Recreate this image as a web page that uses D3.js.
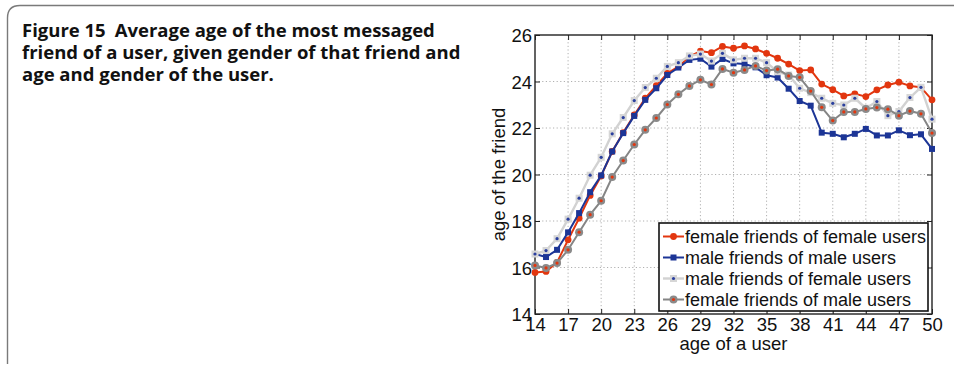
<!DOCTYPE html>
<html>
<head>
<meta charset="utf-8">
<script src="https://cdn.jsdelivr.net/npm/d3@7/dist/d3.min.js"></script>
<style>
  html, body { margin: 0; padding: 0; background: #fff; }
  svg { display: block; }
</style>
</head>
<body>
<svg id="fig" width="954" height="365"></svg>
<script>
// Age of the user (x) and mean age of the most messaged friend (y), per group
const ages = d3.range(14, 51);

const femaleOfFemale = [15.79, 15.83, 16.22, 17.19, 18.12, 19.10, 19.94, 20.99, 21.80, 22.56,
  23.28, 23.82, 24.35, 24.64, 25.07, 25.31, 25.24, 25.51, 25.43, 25.53,
  25.40, 25.21, 25.00, 24.75, 24.47, 24.50, 23.89, 23.65, 23.38, 23.47,
  23.35, 23.64, 23.85, 23.97, 23.81, 23.75, 23.21];

const maleOfMale = [16.58, 16.45, 16.76, 17.51, 18.34, 19.24, 19.96, 20.99, 21.78, 22.52,
  23.21, 23.71, 24.28, 24.60, 24.93, 24.98, 24.64, 24.97, 24.78, 24.75,
  24.61, 24.27, 24.17, 23.69, 23.16, 22.96, 21.80, 21.75, 21.60, 21.75,
  21.96, 21.68, 21.68, 21.90, 21.69, 21.73, 21.10];

const maleOfFemale = [16.58, 16.73, 17.24, 18.08, 18.98, 19.97, 20.74, 21.75, 22.45, 23.18,
  23.74, 24.14, 24.65, 24.81, 25.10, 25.18, 24.88, 25.21, 24.93, 25.00,
  25.00, 24.81, 24.42, 24.28, 23.71, 23.52, 23.28, 23.06, 22.99, 23.28,
  22.85, 23.14, 22.53, 22.71, 23.31, 23.75, 22.38];

const femaleOfMale = [16.09, 15.98, 16.19, 16.76, 17.52, 18.27, 18.87, 19.89, 20.60, 21.29,
  21.92, 22.43, 23.01, 23.45, 23.81, 24.07, 23.87, 24.54, 24.38, 24.50,
  24.67, 24.47, 24.53, 24.24, 24.18, 23.59, 22.89, 22.32, 22.69, 22.69,
  22.82, 22.88, 22.81, 22.53, 22.73, 22.61, 21.78];

const seriesNames = [
  "female friends of female users",
  "male friends of male users",
  "male friends of female users",
  "female friends of male users"
];

const xTicks = [14, 17, 20, 23, 26, 29, 32, 35, 38, 41, 44, 47, 50];
const yTicks = [14, 16, 18, 20, 22, 24, 26];

const captionLines = [
  "friend of a user, given gender of that friend and",
  "age and gender of the user."
];

// Visual style per series: line colour, marker shape, marker fill, centre dot
const styles = [
  { line: "#e2360f", width: 2, shape: "circle", size: 3.4, fill: "#e2360f", dot: null },
  { line: "#1c3596", width: 2, shape: "square", size: 6, fill: "#1c3596", dot: null },
  { line: "#d2d2d2", width: 2.4, shape: "square", size: 7, fill: "#d6d6d6", dot: "#2a3f9e" },
  { line: "#858585", width: 2, shape: "circle", size: 4, fill: "#8a8a8a", dot: "#e2360f" }
];
const values = [femaleOfFemale, maleOfMale, maleOfFemale, femaleOfMale];

const svg = d3.select("#fig");

// Rounded frame around the figure
svg.append("path")
  .attr("d", "M7.5,364 L7.5,18 Q7.5,5.5 20,5.5 L960,5.5")
  .attr("fill", "none")
  .attr("stroke", "#7a7a7a")
  .attr("stroke-width", 1.4);

// Caption
const cap = svg.append("text")
  .attr("font-family", "'Open Sans', Lato, sans-serif")
  .attr("font-weight", "bold")
  .attr("font-size", 18.5)
  .attr("fill", "#111");
const l1 = cap.append("tspan").attr("x", 22).attr("y", 37);
l1.append("tspan").text("Figure 15");
l1.append("tspan").attr("dx", 9).text("Average age of the most messaged");
captionLines.forEach((t, i) => {
  cap.append("tspan").attr("x", 22).attr("y", 59 + i * 22).text(t);
});

// Plot area
const L = 535, R = 932, T = 35, B = 314;
const x = d3.scaleLinear().domain([14, 50]).range([L, R]);
const y = d3.scaleLinear().domain([14, 26]).range([B, T]);
const chartFont = "'Liberation Sans', Arial, sans-serif";
const chartSize = 18.5;

const plot = svg.append("g");

// Dotted grid
plot.append("g").selectAll("line").data(xTicks.slice(1, -1)).join("line")
  .attr("x1", d => x(d)).attr("x2", d => x(d))
  .attr("y1", T).attr("y2", B)
  .attr("stroke", "#b0b0b0").attr("stroke-width", 1).attr("stroke-dasharray", "1.2,2.4");
plot.append("g").selectAll("line").data(yTicks.slice(1, -1)).join("line")
  .attr("x1", L).attr("x2", R)
  .attr("y1", d => y(d)).attr("y2", d => y(d))
  .attr("stroke", "#b0b0b0").attr("stroke-width", 1).attr("stroke-dasharray", "1.2,2.4");

// Axes with inward ticks
const xAxis = plot.append("g").attr("transform", `translate(0,${B})`)
  .call(d3.axisBottom(x).tickValues(xTicks).tickSize(-5).tickPadding(4).tickFormat(d3.format("d")));
const xAxisTop = plot.append("g").attr("transform", `translate(0,${T})`)
  .call(d3.axisTop(x).tickValues(xTicks).tickSize(-5).tickFormat(""));
const yAxis = plot.append("g").attr("transform", `translate(${L},0)`)
  .call(d3.axisLeft(y).tickValues(yTicks).tickSize(-5).tickPadding(3).tickFormat(d3.format("d")));
const yAxisRight = plot.append("g").attr("transform", `translate(${R},0)`)
  .call(d3.axisRight(y).tickValues(yTicks).tickSize(-5).tickFormat(""));

[xAxis, xAxisTop, yAxis, yAxisRight].forEach(g => {
  g.select(".domain").remove();
  g.selectAll(".tick line").attr("stroke", "#222").attr("stroke-width", 1);
  g.selectAll("text").attr("font-family", chartFont).attr("font-size", chartSize).attr("fill", "#111");
});
yAxis.selectAll("text").attr("dy", "0.36em");

plot.append("rect")
  .attr("x", L).attr("y", T).attr("width", R - L).attr("height", B - T)
  .attr("fill", "none").attr("stroke", "#222").attr("stroke-width", 1.4);

// Axis titles
svg.append("text")
  .attr("x", (L + R) / 2).attr("y", 350)
  .attr("text-anchor", "middle")
  .attr("font-family", chartFont).attr("font-size", chartSize).attr("fill", "#111")
  .text("age of a user");
svg.append("text")
  .attr("transform", `translate(505,${(T + B) / 2}) rotate(-90)`)
  .attr("text-anchor", "middle")
  .attr("font-family", chartFont).attr("font-size", chartSize).attr("fill", "#111")
  .text("age of the friend");

// Marker helper
function drawMarker(g, s, cx, cy) {
  if (s.shape === "circle") {
    g.append("circle").attr("cx", cx).attr("cy", cy).attr("r", s.size)
      .attr("fill", s.fill).attr("stroke", "none");
  } else {
    g.append("rect").attr("x", cx - s.size / 2).attr("y", cy - s.size / 2)
      .attr("width", s.size).attr("height", s.size)
      .attr("fill", s.fill).attr("stroke", "none");
  }
  if (s.dot) {
    g.append("circle").attr("cx", cx).attr("cy", cy).attr("r", 1.6).attr("fill", s.dot);
  }
}

// Series lines and markers
const line = d3.line().x(d => x(d[0])).y(d => y(d[1]));
values.forEach((vals, i) => {
  const s = styles[i];
  const pts = ages.map((a, j) => [a, vals[j]]);
  const g = plot.append("g");
  g.append("path").attr("d", line(pts))
    .attr("fill", "none").attr("stroke", s.line).attr("stroke-width", s.width)
    .attr("stroke-linejoin", "round");
  pts.forEach(p => drawMarker(g, s, x(p[0]), y(p[1])));
});

// Legend
const lg = svg.append("g");
const LX = 659, LY = 223, LW = 269, LH = 88;
lg.append("rect").attr("x", LX).attr("y", LY).attr("width", LW).attr("height", LH)
  .attr("fill", "#fff").attr("stroke", "#111").attr("stroke-width", 1.6);
seriesNames.forEach((name, i) => {
  const s = styles[i];
  const cy = LY + 13.5 + i * 21;
  lg.append("line").attr("x1", LX + 4).attr("x2", LX + 25).attr("y1", cy).attr("y2", cy)
    .attr("stroke", s.line).attr("stroke-width", s.width);
  drawMarker(lg, s, LX + 14.5, cy);
  lg.append("text").attr("x", LX + 26).attr("y", cy).attr("dy", "0.35em")
    .attr("font-family", chartFont).attr("font-size", 18).attr("fill", "#111")
    .text(name);
});
</script>
</body>
</html>
